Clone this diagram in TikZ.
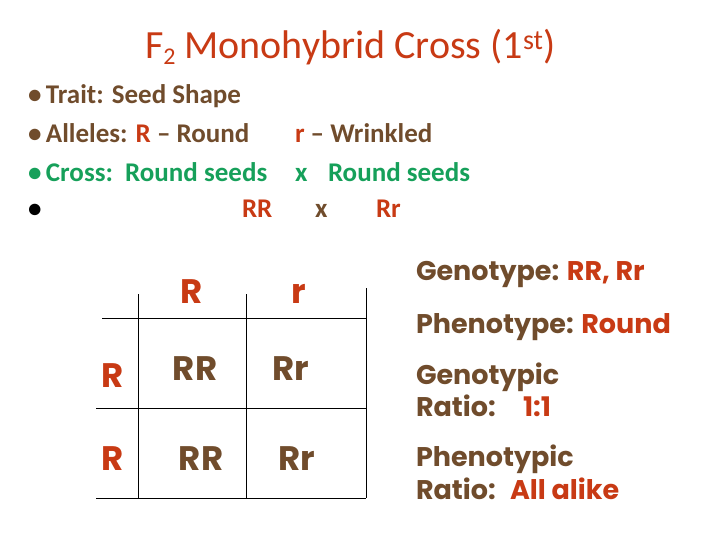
\documentclass[tikz,border=0pt]{standalone}
\usepackage{fontspec}
\setmainfont{Carlito}
\newfontfamily\comic{Poppins}
\definecolor{tred}{RGB}{200,58,20}
\definecolor{tbrown}{RGB}{112,76,44}
\definecolor{tgreen}{RGB}{22,160,90}
\begin{document}
\begin{tikzpicture}[x=1pt,y=-1pt,
  every node/.style={inner sep=0pt,outer sep=0pt},
  bul/.style={anchor=base west,font=\fontsize{27}{27}\selectfont\bfseries},
  cell/.style={anchor=base,font=\comic\bfseries\fontsize{34}{34}\selectfont,text=tbrown},
  hdr/.style={anchor=base,font=\comic\bfseries\fontsize{34}{34}\selectfont,text=tred},
  info/.style={anchor=base west,font=\comic\bfseries\fontsize{27}{27}\selectfont,text=tbrown},
  grid/.style={line width=0.9pt,black}]
\useasboundingbox (0,0) rectangle (720,540);
% title
\node[anchor=base west,text=tred,font=\fontsize{40}{40}\selectfont] (title) at (145,59)
  {F{\fontsize{24}{24}\selectfont\raisebox{-0.25em}{2}} Monohybrid Cross (1\textsuperscript{st})};
% bullets
\node[bul,text=tbrown] (l1) at (28,104) {\textbullet\,Trait: Seed Shape};
\node[bul,text=tbrown] (l2) at (28,143) {\textbullet\,Alleles: \textcolor{tred}{R} – Round};
\node[bul,text=tbrown] (l2b) at (295,143) {\textcolor{tred}{r} – Wrinkled};
\node[bul,text=tgreen] (l3) at (28,182) {\textbullet\,Cross:\ \ Round seeds};
\node[bul,text=tgreen] (l3x) at (295,182) {x};
\node[bul,text=tgreen] (l3b) at (328,182) {Round seeds};
\node[bul,text=black] (l4) at (28,218) {\textbullet};
\node[bul,text=tred] (l4a) at (242,218) {RR};
\node[bul,text=tbrown] (l4x) at (315,218) {x};
\node[bul,text=tred] (l4b) at (376,218) {Rr};
% punnett grid
\coordinate (v1t) at (138.3,294); \coordinate (v1b) at (138.3,498);
\coordinate (v2t) at (246.3,294); \coordinate (v2b) at (246.3,498);
\coordinate (v3t) at (366.3,288); \coordinate (v3b) at (366.3,498);
\coordinate (h1l) at (102,318.3); \coordinate (h1r) at (366.3,318.3);
\coordinate (h2l) at (96,408.3); \coordinate (h2r) at (366.3,408.3);
\coordinate (h3l) at (96,498.3); \coordinate (h3r) at (366.3,498.3);
\draw[grid] (v1t) -- (v1b);
\draw[grid] (v2t) -- (v2b);
\draw[grid] (v3t) -- (v3b);
\draw[grid] (h1l) -- (h1r);
\draw[grid] (h2l) -- (h2r);
\draw[grid] (h3l) -- (h3r);
\node[hdr] (cR) at (192,303) {R};
\node[hdr] (cr) at (299,303) {r};
\node[hdr] (rR1) at (113,387) {R};
\node[hdr] (rR2) at (113,470) {R};
\node[cell] (c11) at (195,380) {RR};
\node[cell] (c12) at (291,380) {Rr};
\node[cell] (c21) at (201,470) {RR};
\node[cell] (c22) at (297,470) {Rr};
% right info
\node[info] (g) at (416,280) {Genotype: \textcolor{tred}{RR, Rr}};
\node[info] (p) at (416,333) {Phenotype: \textcolor{tred}{Round}};
\node[info] (gr1) at (416,384) {Genotypic};
\node[info] (gr2) at (416,416) {Ratio:};
\node[info,text=tred] (gr3) at (523,416) {1:1};
\node[info] (pr1) at (416,466) {Phenotypic};
\node[info] (pr2) at (416,499) {Ratio:};
\node[info,text=tred] (pr3) at (510,499) {All alike};
\end{tikzpicture}
\end{document}
